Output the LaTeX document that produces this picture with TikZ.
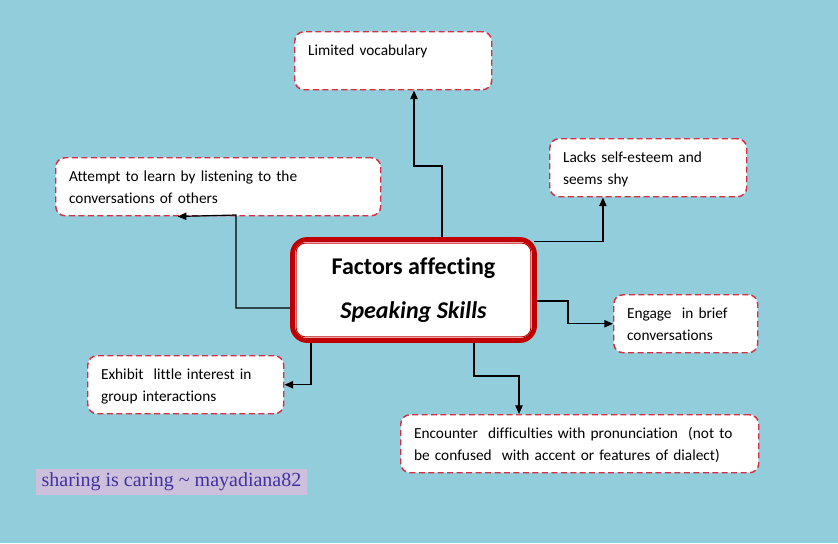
\documentclass[tikz,border=0pt]{standalone}
\usepackage{fontspec}
\setmainfont[Ligatures = NoCommon]{Carlito}
\newfontfamily\markfont{Liberation Serif}
\usetikzlibrary{calc, arrows.meta}

\definecolor{bgblue}{RGB}{146,205,220}
\definecolor{dashred}{RGB}{212,48,68}
\definecolor{facred}{RGB}{192,0,0}
\definecolor{marklav}{RGB}{204,192,220}
\definecolor{markink}{RGB}{66,50,160}

\tikzset{
    factor/.style = {draw = dashred, line width = 1.1pt, dash pattern = on 4.5pt off 2.6pt,
        fill = white, rounded corners = 7pt, anchor = north west, align = left,
        inner xsep = 10pt, inner ysep = 0pt, text height = 18pt, text depth = 25.5pt,
        font = \fontsize{11.5pt}{16.5pt}\selectfont},
    link/.style = {draw, line width = 0.9pt, -{Triangle[length = 6.5pt, width = 5.5pt]}}
}

\begin{document}
\begin{tikzpicture}[x = 0.75pt, y = -0.75pt]
    \fill[bgblue] (0,0) rectangle (838,543);
    \useasboundingbox (0,0) rectangle (838,543);

    % centre
    \node[draw = facred, line width = 3.6pt, fill = white, rounded corners = 11pt,
        minimum width = 181.5pt, minimum height = 75.75pt, align = center,
        font = \fontsize{18pt}{33pt}\selectfont\bfseries] (fac) at (413.5,290)
        {Factors affecting\\ \itshape Speaking Skills};
    \draw[facred, line width = 0.7pt, rounded corners = 7pt]
        ($(fac.south west)+(6,-6)$) rectangle ($(fac.north east)+(-6,6)$);

    % factors
    \node[factor, text width = 127.75pt] (voc) at (294,31) {Limited vocabulary};
    \node[factor, text width = 223.75pt] (att) at (55,157)
        {Attempt to learn by listening to the\\ conversations of others};
    \node[factor, text width = 127.75pt] (lac) at (549,138)
        {Lacks self-esteem and\\ seems shy};
    \node[factor, text width = 88pt] (eng) at (613,294)
        {Engage~ in brief\\ conversations};
    \node[factor, text width = 127pt] (exh) at (87,355)
        {Exhibit~ little interest in\\ group interactions};
    \node[factor, text width = 248.5pt] (enc) at (400,414)
        {Encounter~ difficulties with pronunciation~ (not to\\ be confused~ with accent or features of dialect)};

    % bends
    \coordinate (b1) at (414,166);
    \coordinate (b2) at (236,215);
    \coordinate (b4) at (568,0);
    \coordinate (b6) at (519,376);

    \draw[link] ([xshift = 21.4pt]fac.north) |- (b1) -- (b1 |- voc.south);
    \draw[link] ([yshift = -13.5pt]fac.west) -| (b2) -- ([xshift = -30.4pt]att.south);
    \draw[link] ([xshift = -2.5pt, yshift = -3pt]fac.north east) -| ([xshift = -34pt]lac.south);
    \draw[link] ([yshift = -8.25pt]fac.east) -| (b4 |- eng.west) -- (eng.west);
    \draw[link] ([xshift = -76.9pt]fac.south) |- (exh.east);
    \draw[link] ([xshift = 45.4pt]fac.south) |- (b6) -- (b6 |- enc.north);

    % signature
    \node[fill = marklav, minimum width = 203.25pt, minimum height = 19.5pt, inner sep = 0pt,
        text = markink, font = \markfont\fontsize{15pt}{17pt}\selectfont] (sig) at (171.5,482)
        {sharing is caring \textasciitilde{} mayadiana82};
\end{tikzpicture}
\end{document}
